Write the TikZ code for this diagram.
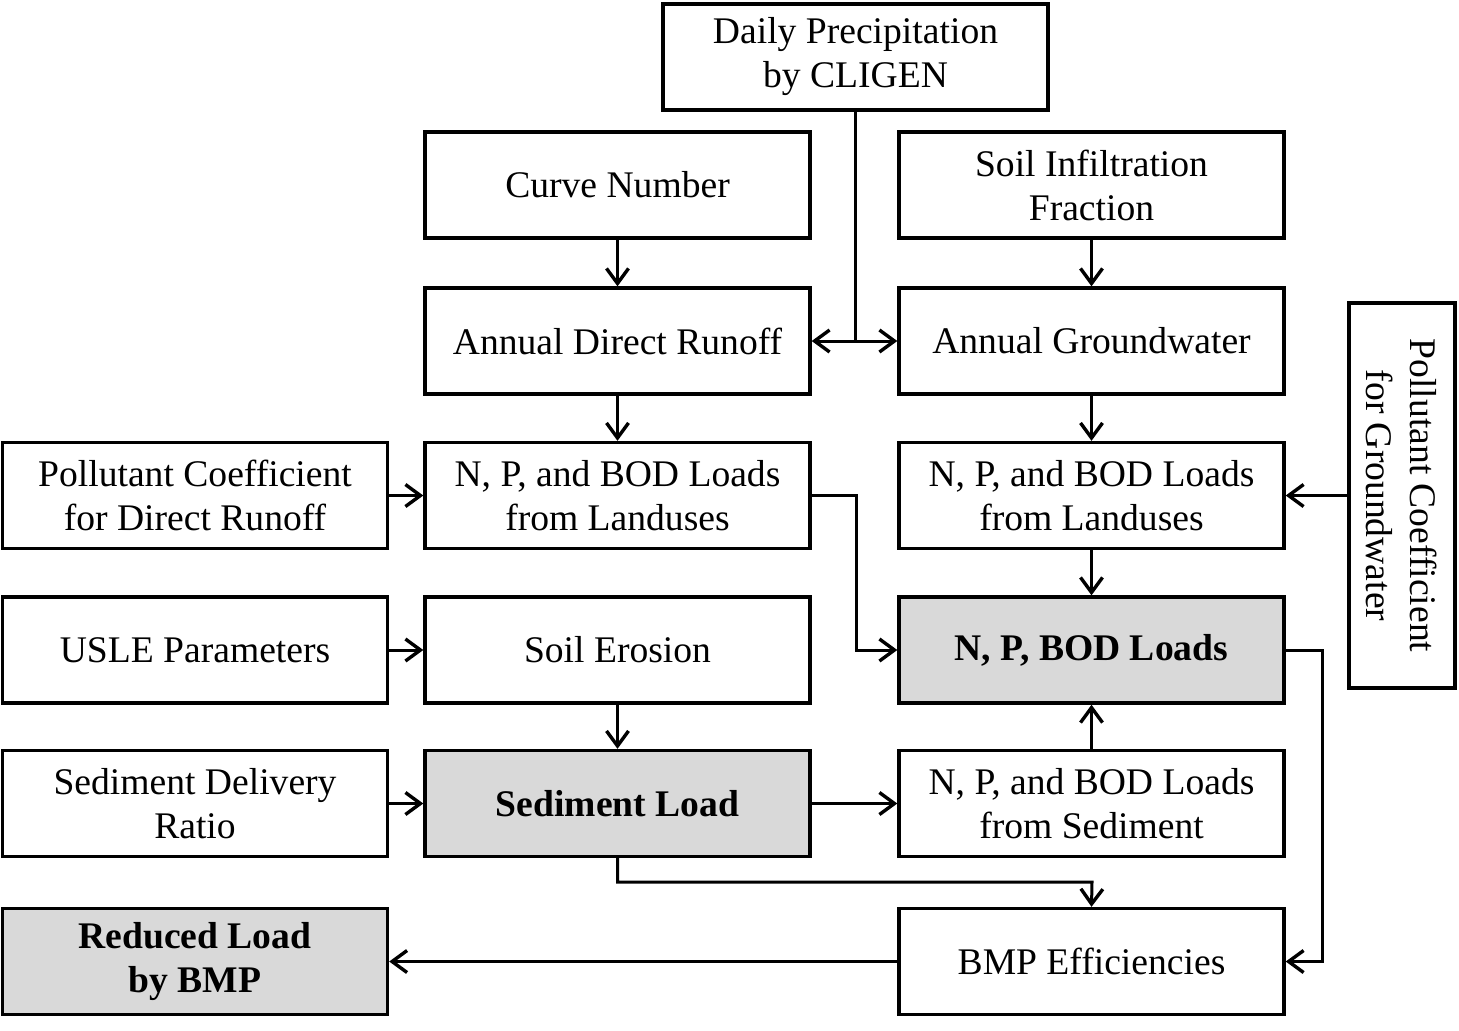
\documentclass[tikz,border=0pt]{standalone}
\usepackage{fontspec}
\setmainfont{Liberation Serif}
\usetikzlibrary{arrows.meta}
\definecolor{boxgray}{HTML}{D9D9D9}
\begin{document}
\begin{tikzpicture}[x=0.5pt,y=-0.5pt,
  box/.style={draw,line width=1.7pt,minimum width=192.5pt,minimum height=53pt,align=center,font=\fontsize{18.8}{22}\selectfont,inner sep=0pt},
  hbox/.style={box,fill=boxgray,font=\fontsize{18.8}{22}\selectfont\bfseries},
  conn/.style={line width=1.5pt,-{Straight Barb[length=7.5pt,width=11pt,line width=1.7pt]}},
  plain/.style={line width=1.5pt}]
\useasboundingbox (0,0) rectangle (1459,1030);
\node[box] (prec) at (855.5,57) {Daily Precipitation\\by CLIGEN};
\node[box] (cn) at (617.5,185) {Curve Number};
\node[box] (sif) at (1091.5,185) {Soil Infiltration\\Fraction};
\node[box] (adr) at (617.5,341) {Annual Direct Runoff};
\node[box] (agw) at (1091.5,341) {Annual Groundwater};
\node[box] (pcdr) at (195,495.5) {Pollutant Coefficient\\for Direct Runoff};
\node[box] (lul) at (617.5,495.5) {N, P, and BOD Loads\\from Landuses};
\node[box] (lur) at (1091.5,495.5) {N, P, and BOD Loads\\from Landuses};
\node[box,rotate=-90] (pcgw) at (1402,495.5) {Pollutant Coefficient\\for Groundwater};
\node[box] (usle) at (195,650) {USLE Parameters};
\node[box] (se) at (617.5,650) {Soil Erosion};
\node[hbox] (npb) at (1091.5,650) {N, P, BOD Loads};
\node[box] (sdr) at (195,803.5) {Sediment Delivery\\Ratio};
\node[hbox] (sl) at (617.5,803.5) {Sediment Load};
\node[box] (nps) at (1091.5,803.5) {N, P, and BOD Loads\\from Sediment};
\node[hbox] (rl) at (195,961.5) {Reduced Load\\by BMP};
\node[box] (bmp) at (1091.5,961.5) {BMP Efficiencies};
\coordinate (j) at (prec.south |- adr.east);
\draw[plain] (prec.south) -- (j);
\draw[conn] (j) -- (adr.east);
\draw[conn] (j) -- (agw.west);
\draw[conn] (cn) -- (adr);
\draw[conn] (sif) -- (agw);
\draw[conn] (adr) -- (lul);
\draw[conn] (agw) -- (lur);
\draw[conn] (pcdr) -- (lul);
\draw[conn] (pcgw.south) -- (lur.east);
\draw[conn] (lul.east) -| (856,650) -- (npb.west);
\draw[conn] (lur) -- (npb);
\draw[conn] (usle) -- (se);
\draw[conn] (se) -- (sl);
\draw[conn] (sdr) -- (sl);
\draw[conn] (sl) -- (nps);
\draw[conn] (nps) -- (npb);
\draw[conn] (sl.south) |- (1092,882) -- (bmp.north);
\draw[conn] (npb.east) -| (1322,961.5) -- (bmp.east);
\draw[conn] (bmp) -- (rl);
\end{tikzpicture}
\end{document}
